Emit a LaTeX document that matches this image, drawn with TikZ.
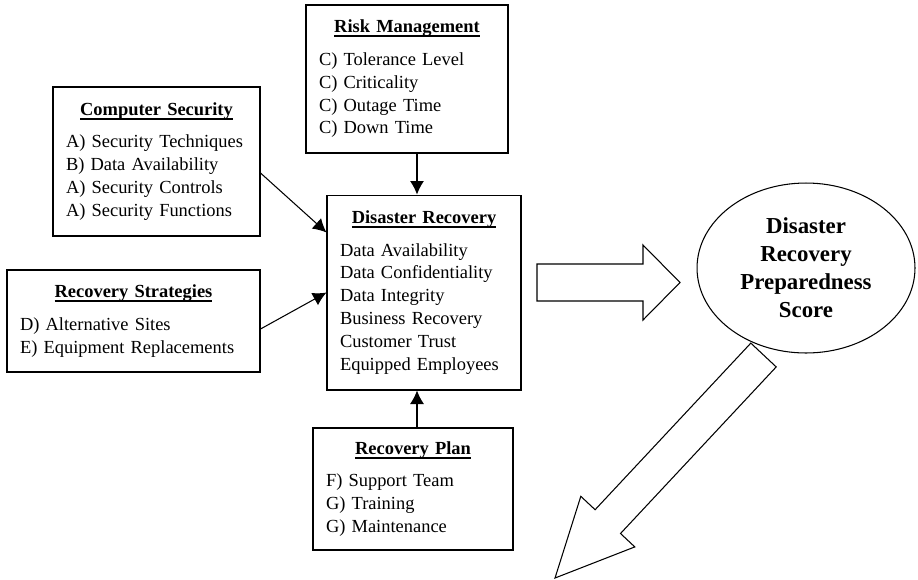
\documentclass[tikz,border=0pt]{standalone}
\usepackage{fontspec}
\setmainfont{Liberation Serif}
\usetikzlibrary{arrows.meta,shapes.geometric}

\newcommand{\thickul}[1]{\setbox0\hbox{\textbf{#1}}\rlap{\rule[-2.4pt]{\wd0}{1pt}}\box0}
\newcommand{\boxtitle}[1]{\makebox[\linewidth][c]{\thickul{#1}}\\[5.5pt]}
\hyphenpenalty=10000

\begin{document}
\begin{tikzpicture}[x=0.02cm,y=-0.02cm,->,>={Latex[length=2.7mm,width=2.8mm]},line width=0.6pt]
              \tikzstyle{box}=[draw,rectangle,align=left,inner xsep=0.26cm,inner ysep=2pt,
                font=\fontsize{10.5}{13}\selectfont];
              \useasboundingbox (0,0) rectangle (918,579);

                \path (407,79)    node[box,text width=3.52cm,minimum height=2.96cm] (rm)
                  {\boxtitle{Risk Management}C) Tolerance Level\\C) Criticality\\C) Outage Time\\C) Down Time};
                \path (156.5,161.5) node[box,text width=3.62cm,minimum height=2.98cm] (cs)
                  {\boxtitle{Computer Security}A) Security Techniques\\B) Data Availability\\A) Security Controls\\A) Security Functions};
                \path (133.5,321) node[box,text width=4.54cm,minimum height=2.04cm] (rs)
                  {\boxtitle{Recovery Strategies}D) Alternative Sites\\E) Equipment Replacements};
                \path (424,292.5) node[box,text width=3.36cm,minimum height=3.9cm] (dr)
                  {\boxtitle{Disaster Recovery}Data Availability\\Data Confidentiality\\Data Integrity\\Business Recovery\\Customer Trust\\Equipped Employees};
                \path (413,489)   node[box,text width=3.48cm,minimum height=2.44cm] (rp)
                  {\boxtitle{Recovery Plan}F) Support Team\\G) Training\\G) Maintenance};
                \path (806,268)   node[draw,ellipse,minimum width=4.36cm,minimum height=3.4cm,inner sep=0pt,
                  align=center,font=\fontsize{13}{16}\selectfont\bfseries] (score)
                  {Disaster\\Recovery\\Preparedness\\Score};

                \path[->,draw] ([xshift=0.2cm]rm.south) -- ([xshift=0.2cm]rm.south |- dr.north);
                \path[->,draw] ([yshift=-0.23cm]cs.east) -- ([yshift=-0.76cm]dr.north west);
                \path[->,draw] ([yshift=-0.16cm]rs.east) -- (dr.west);
                \path[->,draw] ([xshift=0.08cm]rp.north) -- ([xshift=0.08cm]rp.north |- dr.south);

                % block arrows
                \path[-,draw] (537,264) -- (643,264) -- (643,245) -- (680,282.5) -- (643,320)
                  -- (643,301) -- (537,301) -- cycle;
                \path[-,draw] (750.8,343.1) -- (776.2,366.9) -- (620.5,533.5) -- (634.8,546.9)
                  -- (555,578) -- (580.8,496.3) -- (595.1,509.7) -- cycle;
            \end{tikzpicture}
\end{document}
